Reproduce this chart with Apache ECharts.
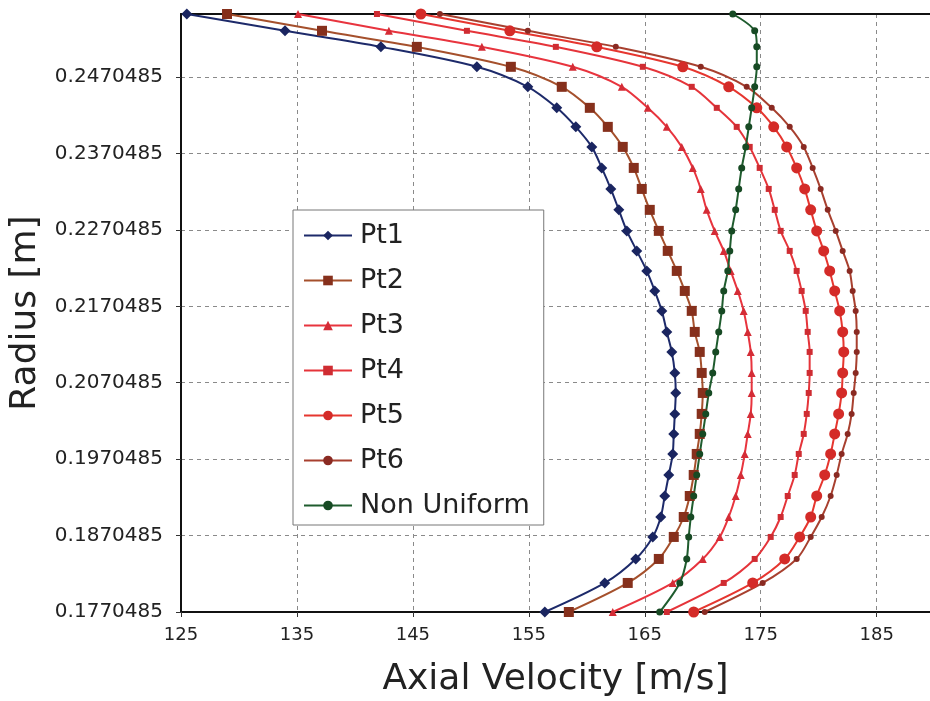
<!DOCTYPE html>
<html>
<head>
<meta charset="utf-8">
<title>Axial Velocity</title>
<style>body{margin:0;background:#fff;}</style>
</head>
<body>
<div id="main" style="width:930px;height:701px;"></div>
<script src="https://cdn.jsdelivr.net/npm/echarts@6/dist/echarts.min.js"></script>
<script>
// 半径（从轮毂到叶尖）
var radius = [0.1770485, 0.18085, 0.18399, 0.18687, 0.18948, 0.19223, 0.19498, 0.19773, 0.20035, 0.20297,
              0.20571, 0.20833, 0.21108, 0.21370, 0.21645, 0.21906, 0.22168, 0.22430, 0.22692, 0.22967,
              0.23241, 0.23516, 0.23791, 0.24053, 0.24302, 0.24577, 0.24839, 0.25100, 0.25310, 0.25530];

// 各工况的轴向速度 [m/s]
var pt1 = [156.38, 161.55, 164.22, 165.69, 166.38, 166.72, 167.07, 167.41, 167.5, 167.59,
           167.67, 167.59, 167.33, 166.9, 166.47, 165.86, 165.17, 164.31, 163.45, 162.76,
           162.07, 161.29, 160.43, 159.05, 157.41, 154.91, 150.52, 142.24, 133.97, 125.5];
var pt2 = [158.45, 163.53, 166.21, 167.5, 168.36, 168.88, 169.22, 169.48, 169.74, 169.91,
           170.0, 169.91, 169.74, 169.31, 169.05, 168.45, 167.76, 166.98, 166.21, 165.43,
           164.74, 164.05, 163.1, 161.81, 160.26, 157.84, 153.45, 145.34, 137.16, 128.97];
var pt3 = [162.24, 167.41, 170.0, 171.47, 172.24, 172.84, 173.28, 173.62, 173.88, 174.14,
           174.22, 174.22, 174.14, 173.88, 173.53, 173.02, 172.41, 171.81, 171.03, 170.34,
           169.83, 169.14, 168.19, 166.9, 165.26, 163.02, 158.79, 150.95, 142.93, 135.09];
var pt4 = [166.9, 171.81, 174.48, 175.86, 176.72, 177.33, 177.93, 178.28, 178.71, 178.97,
           179.14, 179.22, 179.22, 179.05, 178.88, 178.53, 178.1, 177.5, 176.72, 176.21,
           175.69, 174.91, 174.05, 172.93, 171.21, 169.05, 164.83, 157.33, 149.66, 141.9];
var pt5 = [169.22, 174.31, 177.07, 178.36, 179.31, 179.83, 180.52, 181.03, 181.38, 181.72,
           181.98, 182.07, 182.16, 182.07, 181.81, 181.38, 180.95, 180.43, 179.83, 179.31,
           178.79, 178.1, 177.24, 176.12, 174.66, 172.24, 168.28, 160.86, 153.36, 145.69];
var pt6 = [170.17, 175.17, 178.1, 179.31, 180.26, 181.03, 181.55, 181.98, 182.5, 182.84,
           183.02, 183.19, 183.28, 183.28, 183.19, 182.93, 182.67, 182.07, 181.47, 180.78,
           180.17, 179.48, 178.71, 177.5, 175.95, 173.79, 169.83, 162.5, 154.91, 147.33];
var nonUniform = [166.29, 168.02, 168.62, 168.79, 168.97, 169.22, 169.48, 169.74, 170.0, 170.26,
                  170.52, 170.86, 171.12, 171.38, 171.64, 171.81, 172.16, 172.33, 172.5, 172.84,
                  173.1, 173.36, 173.71, 173.97, 174.22, 174.48, 174.66, 174.66, 174.48, 172.59];

var names = ['Pt1', 'Pt2', 'Pt3', 'Pt4', 'Pt5', 'Pt6', 'Non Uniform'];

var myChart = echarts.init(document.getElementById('main'));

function pairs(vel) {
    var list = [];
    for (var i = 0; i < vel.length; i++) {
        list.push([vel[i], radius[i]]);
    }
    return list;
}

function makeSeries(name, vel, lineColor, dotColor, symbol, size) {
    return {
        name: name,
        type: 'line',
        data: pairs(vel),
        symbol: symbol,
        symbolSize: size,
        showAllSymbol: true,
        smooth: 0.3,   // 平滑曲线
        lineStyle: { color: lineColor, width: 2 },
        itemStyle: { color: dotColor, borderWidth: 0 },
        emphasis: { disabled: true },
        animation: false
    };
}

var font = 'DejaVu Sans';

var option = {
    backgroundColor: '#ffffff',
    grid: { left: 181, right: 0, top: 14, bottom: 89, containLabel: false, outerBoundsMode: 'none' },
    legend: {
        orient: 'vertical',
        left: 293,
        top: 210,
        padding: [12, 14, 6, 10],
        itemGap: 18,
        itemWidth: 48,
        itemHeight: 12,
        backgroundColor: '#ffffff',
        borderColor: '#777777',
        borderWidth: 1,
        borderRadius: 0,
        textStyle: { fontFamily: font, fontSize: 27, color: '#222222', padding: [0, 0, 0, 3] },
        data: names
    },
    xAxis: [
        {
            type: 'value',
            min: 125,
            max: 189.6,
            interval: 10,
            name: 'Axial Velocity [m/s]',
            nameLocation: 'middle',
            nameGap: 50,
            nameTextStyle: { fontFamily: font, fontSize: 36, color: '#222222' },
            axisLine: { show: true, lineStyle: { color: '#111111', width: 2 } },
            axisTick: { show: true, length: 5, lineStyle: { color: '#333333' } },
            axisLabel: { fontFamily: font, fontSize: 18, color: '#222222', margin: 14, showMaxLabel: false },
            splitLine: { show: true, lineStyle: { color: '#8a8a8a', type: [4, 4], width: 1 } }
        },
        {
            // 顶部边框
            type: 'value',
            position: 'top',
            min: 125,
            max: 189.6,
            axisLine: { show: true, lineStyle: { color: '#111111', width: 2 } },
            axisTick: { show: false },
            axisLabel: { show: false },
            splitLine: { show: false }
        }
    ],
    yAxis: {
        type: 'value',
        min: 0.1770485,
        max: 0.2553,
        // 刻度从 min 开始数，略大于 0.01 以保留全部小数位
        interval: 0.0100000001,
        name: 'Radius [m]',
        nameLocation: 'middle',
        nameGap: 131,
        nameTextStyle: { fontFamily: font, fontSize: 36, color: '#222222' },
        axisLine: { show: true, lineStyle: { color: '#111111', width: 2 } },
        axisTick: { show: true, length: 5, lineStyle: { color: '#333333' } },
        axisLabel: {
            fontFamily: font, fontSize: 20, color: '#222222', margin: 18, showMaxLabel: false,
            formatter: function (v) { return v.toFixed(7); }
        },
        splitLine: { show: true, lineStyle: { color: '#8a8a8a', type: [4, 4], width: 1 } }
    },
    series: [
        makeSeries('Pt1', pt1, '#1d2a6a', '#1a2560', 'diamond', 11),
        makeSeries('Pt2', pt2, '#a5502c', '#86301c', 'rect', 10),
        makeSeries('Pt3', pt3, '#e8343e', '#d42c36', 'triangle', 8),
        makeSeries('Pt4', pt4, '#e5343a', '#cf2c32', 'rect', 6),
        makeSeries('Pt5', pt5, '#e6362f', '#d42b28', 'circle', 11),
        makeSeries('Pt6', pt6, '#a8402f', '#8a2a22', 'circle', 6),
        makeSeries('Non Uniform', nonUniform, '#1f5c2e', '#174a24', 'circle', 7)
    ]
};
myChart.setOption(option);
</script>
</body>
</html>
